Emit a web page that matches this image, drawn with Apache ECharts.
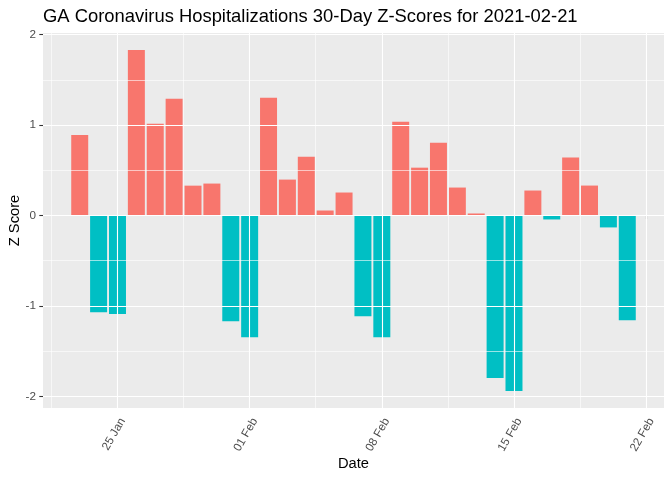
<!DOCTYPE html>
<html><head><meta charset="utf-8">
<script src="https://cdn.jsdelivr.net/npm/echarts@6/dist/echarts.min.js"></script>
<style>html,body{margin:0;padding:0;background:#fff}#c{width:672px;height:480px}</style>
</head><body><div id="c"></div>
<script>
const dates = ['2021-01-23','2021-01-24','2021-01-25','2021-01-26','2021-01-27','2021-01-28','2021-01-29','2021-01-30','2021-01-31','2021-02-01',
  '2021-02-02','2021-02-03','2021-02-04','2021-02-05','2021-02-06','2021-02-07','2021-02-08','2021-02-09','2021-02-10','2021-02-11',
  '2021-02-12','2021-02-13','2021-02-14','2021-02-15','2021-02-16','2021-02-17','2021-02-18','2021-02-19','2021-02-20','2021-02-21'];
const zScores = [0.89,-1.07,-1.09,1.83,1.015,1.29,0.33,0.353,-1.169,-1.346,
  1.301,0.397,0.651,0.055,0.254,-1.114,-1.346,1.037,0.529,0.805,
  0.309,0.022,-1.798,-1.941,0.276,-0.044,0.64,0.331,-0.132,-1.158];
const xTickDates = ['2021-01-25','2021-02-01','2021-02-08','2021-02-15','2021-02-22'];
const yTicks = [-2,-1,0,1,2];
const yMinorTicks = [-1.5,-0.5,0.5,1.5];
const monthNames = ['Jan','Feb','Mar','Apr','May','Jun','Jul','Aug','Sep','Oct','Nov','Dec'];
const posColor = '#F8766D', negColor = '#00BFC4';

const DAY = 86400000;
function dayNum(s){const p=s.split('-').map(Number);return Date.UTC(p[0],p[1]-1,p[2])/DAY;}
function fmt(v){const d=new Date(Math.round(v)*DAY);const dd=d.getUTCDate();return (dd<10?'0':'')+dd+' '+monthNames[d.getUTCMonth()];}
const xs = dates.map(dayNum);
const xLo = Math.min(...xs)-0.45, xHi = Math.max(...xs)+0.45;
const xPad = (xHi-xLo)*0.05;
const xMin = xLo-xPad, xMax = xHi+xPad;
const yLo = Math.min(0,...zScores), yHi = Math.max(0,...zScores);
const yPad = (yHi-yLo)*0.05;
const yMin = yLo-yPad, yMax = yHi+yPad;
const xMajor = xTickDates.map(dayNum);
const xMinor = [];
for (let i=0;i<=xMajor.length;i++){const v=(i===0?xMajor[0]-3.5:(i===xMajor.length?xMajor[i-1]+3.5:(xMajor[i-1]+xMajor[i])/2)); if(v>xMin&&v<xMax) xMinor.push(v);}

const gridLines = [];
xMajor.forEach(v=>{ if(v>xMin&&v<xMax) gridLines.push({xAxis:v,lineStyle:{width:1.1}}); });
xMinor.forEach(v=>gridLines.push({xAxis:v,lineStyle:{width:0.6}}));
yTicks.forEach(v=>gridLines.push({yAxis:v,lineStyle:{width:1.1}}));
yMinorTicks.forEach(v=>gridLines.push({yAxis:v,lineStyle:{width:0.6}}));

const font = 'Liberation Sans, Arial, sans-serif';
const chart = echarts.init(document.getElementById('c'));
chart.setOption({
  animation:false,
  backgroundColor:'#fff',
  title:{text:'GA Coronavirus Hospitalizations 30-Day Z-Scores for 2021-02-21',left:38,top:3,
    textStyle:{fontFamily:font,fontSize:18.4,fontWeight:'normal',color:'#000'}},
  grid:{left:43,right:8,top:33,bottom:72,show:true,backgroundColor:'#EBEBEB',borderWidth:0,
    containLabel:false,outerBoundsMode:'none'},
  xAxis:{type:'value',min:xMin,max:xMax,
    name:'Date',nameLocation:'middle',nameGap:48,nameMoveOverlap:false,
    nameTextStyle:{fontFamily:font,fontSize:14.7,color:'#000'},
    axisLine:{show:false},
    axisTick:{show:true,length:3.7,lineStyle:{color:'#333',width:1.1},customValues:xMajor},
    axisLabel:{rotate:60,margin:8,verticalAlign:'top',fontFamily:font,fontSize:11.7,color:'#4D4D4D',customValues:xMajor,formatter:v=>fmt(v)},
    splitLine:{show:false}},
  yAxis:{type:'value',min:yMin,max:yMax,
    name:'Z Score',nameLocation:'middle',nameGap:21,nameMoveOverlap:false,
    nameTextStyle:{fontFamily:font,fontSize:14.7,color:'#000'},
    axisLine:{show:false},
    axisTick:{show:true,length:3.7,lineStyle:{color:'#333',width:1.1},customValues:yTicks},
    axisLabel:{margin:7,fontFamily:font,fontSize:11.7,color:'#4D4D4D',customValues:yTicks,formatter:v=>String(v)},
    splitLine:{show:false}},
  series:[
    {type:'line',data:[],z:1,silent:true,
      markLine:{silent:true,symbol:['none','none'],label:{show:false},animation:false,
        lineStyle:{color:'#fff',type:'solid'},emphasis:{disabled:true},data:gridLines}},
    {type:'bar',z:3,barWidth:'90%',
      data:xs.map((x,i)=>({value:[x,zScores[i]],itemStyle:{color:zScores[i]>=0?posColor:negColor}}))}
  ]
});
</script></body></html>
